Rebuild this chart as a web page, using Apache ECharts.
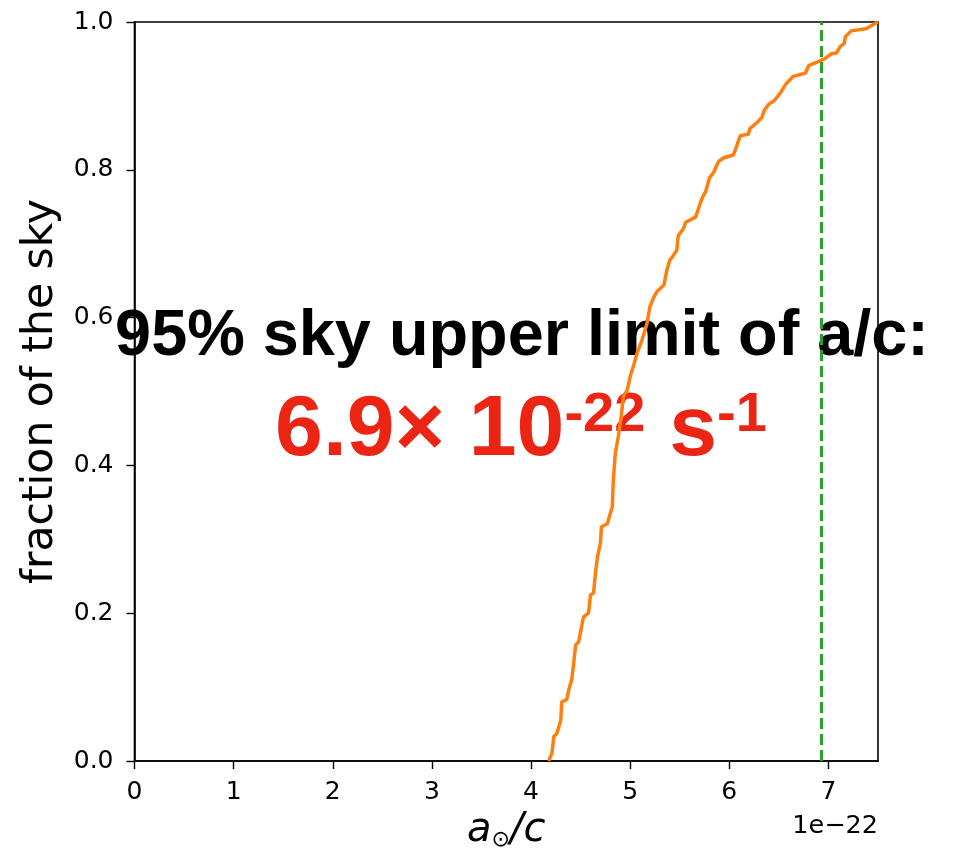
<!DOCTYPE html>
<html>
<head>
<meta charset="utf-8">
<script src="https://cdn.jsdelivr.net/npm/echarts@6/dist/echarts.min.js"></script>
<style>
  html, body { margin: 0; padding: 0; background: #fff; }
  #chart { width: 962px; height: 857px; }
</style>
</head>
<body>
<div id="chart"></div>
<script>
// Solar acceleration a/c, in units of 1e-22 s^-1
const accel = [
  4.18, 4.19, 4.21, 4.23, 4.26, 4.30, 4.31, 4.36, 4.38, 4.41,
  4.43, 4.45, 4.48, 4.51, 4.53, 4.58, 4.60, 4.63, 4.65, 4.67,
  4.70, 4.71, 4.77, 4.78, 4.82, 4.83, 4.85, 4.88, 4.91, 4.93,
  4.97, 5.00, 5.04, 5.07, 5.12, 5.17, 5.20, 5.24, 5.27, 5.34,
  5.37, 5.40, 5.42, 5.47, 5.485, 5.536, 5.56, 5.66, 5.70, 5.73,
  5.76, 5.80, 5.84, 5.89, 5.94, 6.04, 6.08, 6.11, 6.19, 6.21,
  6.28, 6.33, 6.35, 6.40, 6.45, 6.52, 6.57, 6.64, 6.77, 6.80,
  6.89, 6.96, 7.03, 7.08, 7.12, 7.16, 7.17, 7.23, 7.38, 7.47,
  7.50
];
// Cumulative fraction of the sky below each value
const skyFraction = [
  0.000, 0.004, 0.010, 0.033, 0.037, 0.055, 0.080, 0.083, 0.096, 0.110,
  0.132, 0.157, 0.161, 0.182, 0.195, 0.200, 0.225, 0.227, 0.254, 0.276,
  0.295, 0.317, 0.321, 0.326, 0.344, 0.380, 0.416, 0.439, 0.466, 0.493,
  0.502, 0.520, 0.538, 0.552, 0.570, 0.592, 0.615, 0.628, 0.635, 0.644,
  0.664, 0.678, 0.681, 0.691, 0.711, 0.720, 0.729, 0.736, 0.752, 0.763,
  0.770, 0.789, 0.796, 0.811, 0.816, 0.820, 0.834, 0.846, 0.848, 0.856,
  0.864, 0.871, 0.880, 0.889, 0.893, 0.905, 0.916, 0.926, 0.931, 0.941,
  0.946, 0.950, 0.957, 0.958, 0.967, 0.971, 0.980, 0.988, 0.991, 0.998,
  1.000
];
// 95% sky upper limit, units of 1e-22 s^-1
const upperLimit = 6.93;
const xTicks = [0, 1, 2, 3, 4, 5, 6, 7];
const yTicks = [0, 0.2, 0.4, 0.6, 0.8, 1.0];

const tickFont = 'DejaVu Sans';
const chart = echarts.init(document.getElementById('chart'), null, { renderer: 'canvas' });

chart.setOption({
  animation: false,
  backgroundColor: '#fff',
  grid: {
    left: 134.5, right: 84, top: 22, bottom: 96,
    show: true, borderColor: '#000', borderWidth: 1.6,
    backgroundColor: 'transparent', z: 1
  },
  xAxis: {
    type: 'value', min: 0, max: 7.5, interval: 1, z: 1,
    axisLine: { show: true, onZero: false, lineStyle: { color: '#000', width: 1.6 } },
    axisTick: { show: true, inside: false, length: 8, customValues: xTicks, lineStyle: { color: '#000', width: 1.4 } },
    axisLabel: { customValues: xTicks, margin: 19, color: '#000', fontFamily: tickFont, fontSize: 25 },
    splitLine: { show: false },
    name: '{i|a}{o|\u2299}{i|/c}',
    nameLocation: 'middle', nameGap: 50,
    nameTextStyle: {
      rich: {
        i: { fontFamily: tickFont, fontStyle: 'italic', fontSize: 40, lineHeight: 40, color: '#000' },
        o: { fontFamily: tickFont, fontSize: 22, lineHeight: 24, verticalAlign: 'bottom', color: '#000' }
      }
    }
  },
  yAxis: {
    type: 'value', min: 0, max: 1, interval: 0.2, z: 1,
    axisLine: { show: true, lineStyle: { color: '#000', width: 1.6 } },
    axisTick: { show: true, inside: false, length: 8, customValues: yTicks, lineStyle: { color: '#000', width: 1.4 } },
    axisLabel: { customValues: yTicks, margin: 21, color: '#000', fontFamily: tickFont, fontSize: 25,
      formatter: v => v.toFixed(1) },
    splitLine: { show: false },
    name: 'fraction of the sky', nameLocation: 'middle', nameGap: 70,
    nameTextStyle: { fontFamily: tickFont, fontSize: 42.5, color: '#000' }
  },
  series: [{
    type: 'line', z: 3,
    data: accel.map((a, i) => [a, skyFraction[i]]),
    showSymbol: false, symbol: 'none',
    lineStyle: { color: '#ff7f0e', width: 3.5 },
    markLine: {
      silent: true, symbol: ['none', 'none'], label: { show: false },
      lineStyle: { color: '#2ca02c', width: 3.2, type: [11, 5] },
      data: [{ xAxis: upperLimit }]
    }
  }],
  graphic: [
    {
      type: 'text', x: 522, y: 305, z: -1,
      style: {
        text: '95% sky upper limit of a/c:',
        fontFamily: 'Liberation Sans', fontWeight: 'bold', fontSize: 64.8, lineHeight: 64,
        fill: '#000', align: 'center', verticalAlign: 'top'
      }
    },
    {
      type: 'text', x: 521, y: 388, z: -1,
      style: {
        text: '{m|' + upperLimit.toFixed(1) + '\u00d7 10}{s|-22}{m| s}{s|-1}',
        align: 'center', verticalAlign: 'top',
        rich: {
          m: { fontFamily: 'Liberation Sans', fontWeight: 'bold', fontSize: 86, lineHeight: 86, fill: '#eb2414', color: '#eb2414' },
          s: { fontFamily: 'Liberation Sans', fontWeight: 'bold', fontSize: 56, lineHeight: 75, verticalAlign: 'top', fill: '#eb2414', color: '#eb2414' }
        }
      }
    },
    {
      type: 'text', x: 878, y: 813, z: 1,
      style: {
        text: '1e\u221222', fontFamily: tickFont, fontSize: 25.5, lineHeight: 26,
        fill: '#000', align: 'right', verticalAlign: 'top'
      }
    }
  ]
});
</script>
</body>
</html>
